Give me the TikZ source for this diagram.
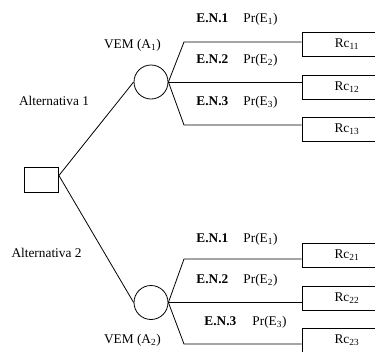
\documentclass[tikz,border=0pt]{standalone}
\usepackage{fontspec}
\setmainfont{Liberation Serif}
\usetikzlibrary{positioning}
\tikzstyle{decision}=[draw,rectangle,minimum width=25.5pt,minimum height=18.75pt,inner sep=0pt]
\tikzstyle{chance}=[draw,circle,minimum size=25.5pt,inner sep=0pt]
\tikzstyle{result}=[draw,rectangle,minimum width=67.5pt,minimum height=18pt,inner sep=0pt]
\tikzstyle{lbl}=[inner sep=0pt,anchor=base west]
\tikzstyle{branch}=[line width=0.6pt]

\begin{document}
\begin{tikzpicture}[x=0.75pt,y=-0.75pt,line width=0.6pt]
            \useasboundingbox (0,0) rectangle (375,351);
            \clip (0,0) rectangle (375,351);

            \node (dec) [decision] at (41.5,179.5) {};
            \node (ch1) [chance] at (151,82) {};
            \node (ch2) [chance] at (151,302.5) {};

            \node (rc11) [result] at (347,44.5) {Rc\textsubscript{11}};
            \node (rc12) [result] at (347,87) {Rc\textsubscript{12}};
            \node (rc13) [result] at (347,129.5) {Rc\textsubscript{13}};
            \node (rc21) [result] at (347,255.5) {Rc\textsubscript{21}};
            \node (rc22) [result] at (347,298.5) {Rc\textsubscript{22}};
            \node (rc23) [result] at (347,340) {Rc\textsubscript{23}};

            \coordinate (dout) at ([yshift=3pt]dec.east);
            \coordinate (j11) at (184,42);
            \coordinate (j13) at (184,125);
            \coordinate (j21) at (184,259);
            \coordinate (j23) at (184,344);

            % alternatives
            \draw[branch] (dout) -- (ch1.west);
            \draw[branch] (dout) -- (ch2.west);

            % states of nature
            \draw[branch] (ch1.east) -- (j11) -- (j11 -| rc11.west);
            \draw[branch] (ch1.east) -- (ch1.east -| rc12.west);
            \draw[branch] (ch1.east) -- (j13) -- (j13 -| rc13.west);
            \draw[branch] (ch2.east) -- (j21) -- (j21 -| rc21.west);
            \draw[branch] (ch2.east) -- (ch2.east -| rc22.west);
            \draw[branch] (ch2.east) -- (j23) -- (j23 -| rc23.west);

            \node (alt1) [inner sep=0pt,anchor=base] at (54,105) {Alternativa 1};
            \node (alt2) [inner sep=0pt,anchor=base] at (46.5,257) {Alternativa 2};
            \node (vem1) [inner sep=0pt,anchor=base] at (132.5,48) {VEM (A\textsubscript{1})};
            \node (vem2) [inner sep=0pt,anchor=base] at (132.5,343) {VEM (A\textsubscript{2})};

            \node (en11) [lbl] at (196,22) {\textbf{E.N.1}};
            \node (pr11) [lbl] at (243,22) {Pr(E\textsubscript{1})};
            \node (en12) [lbl] at (196,63) {\textbf{E.N.2}};
            \node (pr12) [lbl] at (243,63) {Pr(E\textsubscript{2})};
            \node (en13) [lbl] at (196,105) {\textbf{E.N.3}};
            \node (pr13) [lbl] at (243,105) {Pr(E\textsubscript{3})};
            \node (en21) [lbl] at (196,242) {\textbf{E.N.1}};
            \node (pr21) [lbl] at (243,242) {Pr(E\textsubscript{1})};
            \node (en22) [lbl] at (196,283) {\textbf{E.N.2}};
            \node (pr22) [lbl] at (243,283) {Pr(E\textsubscript{2})};
            \node (en23) [lbl] at (204,325) {\textbf{E.N.3}};
            \node (pr23) [lbl] at (252,325) {Pr(E\textsubscript{3})};
\end{tikzpicture}
\end{document}
